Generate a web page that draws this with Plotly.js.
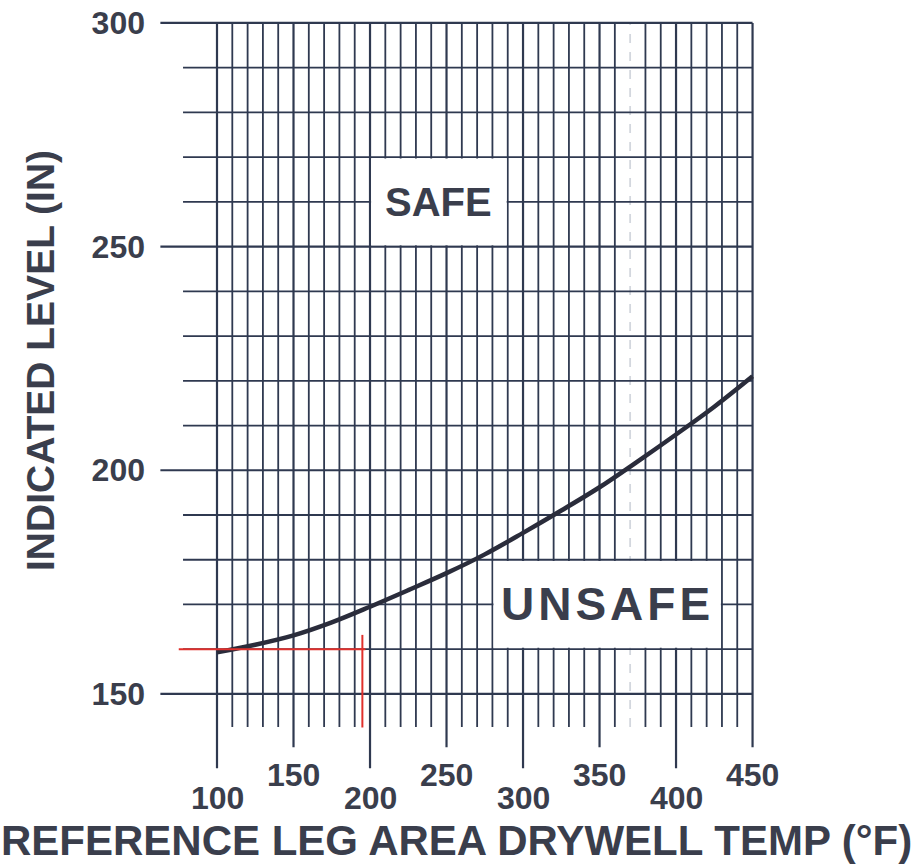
<!DOCTYPE html>
<html>
<head>
<meta charset="utf-8">
<script src="https://cdn.plot.ly/plotly-3.0.1.min.js"></script>
<style>
  html, body { margin: 0; padding: 0; background: #ffffff; }
  #chart { width: 917px; height: 865px; }
</style>
</head>
<body>
<div id="chart"></div>
<script>
// Limit curve: indicated level vs. reference leg area drywell temperature
const tempF   = [100,   125,   150,   175,   200,   225,   250,   275,   300,   325,   350,   375,   400,   425,   450];
const levelIn = [159.3, 161.0, 163.1, 166.0, 169.5, 173.2, 177.0, 181.2, 186.0, 191.0, 196.2, 202.0, 208.0, 214.2, 221.0];

// Worked reading (red): 160 in at about 195 °F
const guideX = [75, 197, null, 195, 195];
const guideY = [160, 160, null, 163.2, 142.5];

// Axis tick labels
const yTickVals = [150, 200, 250, 300];
const xLabelsLow  = [100, 200, 300, 400];
const xLabelsHigh = [150, 250, 350, 450];

// Region labels
const regionText = ['SAFE', 'UNSAFE'];
const regionX    = [245, 355];
const regionY    = [260, 170];

const INK  = '#2f3950';
const TEXT = '#3a3e4c';
const FONT = 'Liberation Sans, Arial, sans-serif';

const shapes = [];

// Vertical rulings every 10 °F, with longer stubs below the 150 line at 50s and 100s
for (let t = 100; t <= 450; t += 10) {
  const is100 = t % 100 === 0, is50 = t % 50 === 0;
  const yLow = is100 ? 133.4 : (is50 ? 138.1 : 142.6);
  const faint = t === 370;
  shapes.push({
    type: 'line', xref: 'x', yref: 'y', layer: 'below',
    x0: t, x1: t, y0: yLow, y1: 300,
    line: { color: faint ? '#d3d7de' : INK, width: is50 ? 2.2 : 1.8, dash: faint ? 'dash' : 'solid' }
  });
}

// Horizontal rulings every 10 in, majors reaching further left
for (let v = 150; v <= 300; v += 10) {
  const xLeft = v % 50 === 0 ? 63 : 77.8;
  shapes.push({
    type: 'line', xref: 'x', yref: 'y', layer: 'below',
    x0: xLeft, x1: 450, y0: v, y1: v,
    line: { color: INK, width: v % 50 === 0 ? 2.2 : 1.8 }
  });
}

// Blank label panels cut out of the grid
shapes.push({ type: 'rect', xref: 'x', yref: 'y', layer: 'below',
  x0: 200.7, x1: 289.3, y0: 250.3, y1: 269.7, fillcolor: '#ffffff', line: { width: 0 } });
shapes.push({ type: 'rect', xref: 'x', yref: 'y', layer: 'below',
  x0: 280.7, x1: 429.3, y0: 160.3, y1: 179.7, fillcolor: '#ffffff', line: { width: 0 } });

const annotations = [];
const tickFont = { family: FONT, size: 32, color: TEXT, weight: 700 };

// Staggered temperature labels below the grid
xLabelsLow.forEach(v => annotations.push({
  x: v, y: -0.0351, xref: 'x', yref: 'paper', text: String(v), showarrow: false,
  xanchor: 'center', yanchor: 'middle', font: tickFont
}));
xLabelsHigh.forEach(v => annotations.push({
  x: v, y: -0.0046, xref: 'x', yref: 'paper', text: String(v), showarrow: false,
  xanchor: 'center', yanchor: 'middle', font: tickFont
}));

regionText.forEach((t, i) => annotations.push({
  x: regionX[i], y: regionY[i], xref: 'x', yref: 'y', text: t, showarrow: false,
  xanchor: 'center', yanchor: 'middle',
  font: { family: FONT, size: i === 0 ? 40 : 46, color: TEXT, weight: 700 }
}));

// Axis titles
annotations.push({
  x: 0.4995, y: -0.0915, xref: 'paper', yref: 'paper', showarrow: false,
  text: 'REFERENCE LEG AREA DRYWELL TEMP (°F)', xanchor: 'center', yanchor: 'middle',
  font: { family: FONT, size: 42, color: TEXT, weight: 700 }
});
annotations.push({
  x: -0.1977, y: 0.5464, xref: 'paper', yref: 'paper', showarrow: false, textangle: -90,
  text: 'INDICATED LEVEL (IN)', xanchor: 'center', yanchor: 'middle',
  font: { family: FONT, size: 39, color: TEXT, weight: 700 }
});

const traces = [
  {
    x: tempF, y: levelIn, type: 'scatter', mode: 'lines',
    line: { color: '#2a2c3b', width: 4.5, shape: 'spline', smoothing: 1 },
    hoverinfo: 'x+y'
  },
  {
    x: guideX, y: guideY, type: 'scatter', mode: 'lines',
    line: { color: '#e0302c', width: 2 },
    hoverinfo: 'skip'
  }
];

const layout = {
  width: 917, height: 865,
  margin: { l: 158, r: 162, t: 18, b: 93 },
  paper_bgcolor: '#ffffff', plot_bgcolor: '#ffffff',
  showlegend: false,
  xaxis: {
    range: [61.44, 451.6], showgrid: false, zeroline: false, showline: false,
    showticklabels: false, ticks: '', fixedrange: true
  },
  yaxis: {
    range: [132.55, 301.1], showgrid: false, zeroline: false, showline: false,
    tickvals: yTickVals, ticktext: yTickVals.map(String), ticks: '',
    ticklabelstandoff: 12,
    tickfont: tickFont, fixedrange: true
  },
  shapes: shapes,
  annotations: annotations
};

Plotly.newPlot('chart', traces, layout, { displayModeBar: false, staticPlot: true }).then(gd => {
  // The UNSAFE panel label is set with open letter spacing
  gd.querySelectorAll('.annotation-text').forEach(el => {
    if (el.textContent === 'UNSAFE') el.style.letterSpacing = '4px';
  });
});
</script>
</body>
</html>
